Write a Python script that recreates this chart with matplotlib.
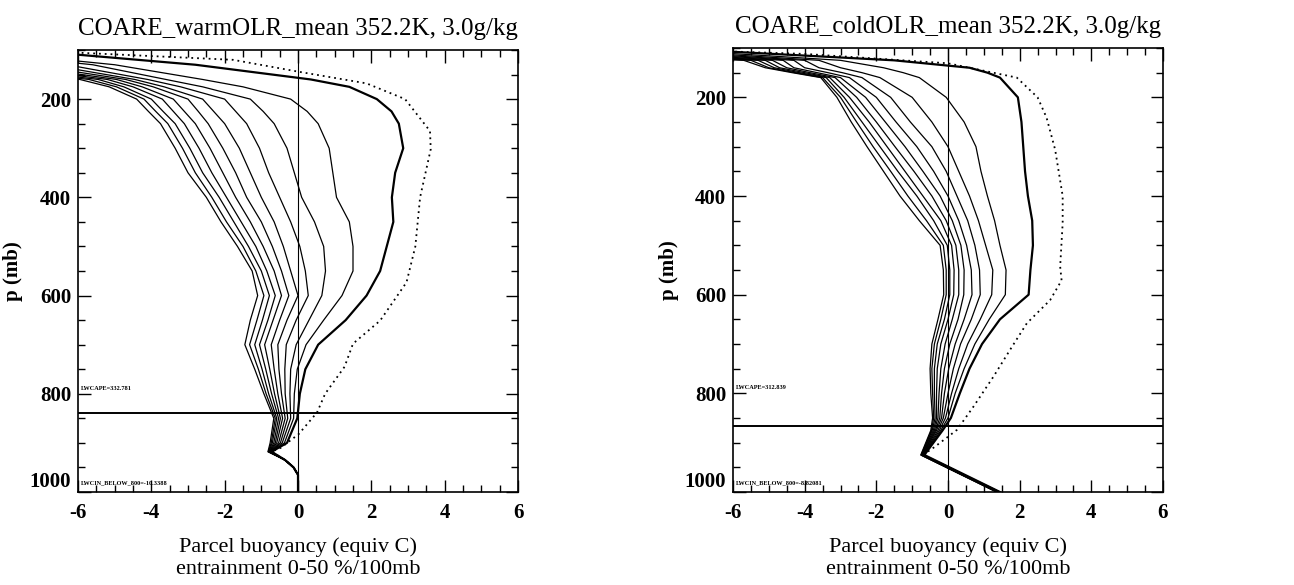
import numpy as np
import matplotlib.pyplot as plt
from matplotlib.ticker import MultipleLocator

plt.rcParams['axes.unicode_minus'] = False

# entrainment rates (%/100mb) for the solid curves
entrain = [0, 5, 10, 15, 20, 25, 30, 35, 40, 45, 50]

# ---- warm OLR panel ----
p_warm = [100, 130, 160, 175, 200, 225, 250, 300, 350, 400, 450, 500, 550, 600,
          650, 700, 750, 800, 850, 900, 918, 935, 950, 965, 1000]
b_warm = [
    [-7.5, -9, -9.5, -10, -10.5, -11, -11.5, -12, -12.5, -13, -13.5],
    [-2.8, -5.0, -5.6, -6.3, -6.8, -7.3, -7.8, -8.3, -8.8, -9.3, -9.8],
    [0.35, -2.6, -3.6, -4.1, -4.45, -4.7, -4.95, -5.2, -5.45, -5.7, -5.95],
    [1.4, -1.5, -2.6, -3.2, -3.65, -3.95, -4.25, -4.5, -4.75, -4.95, -5.15],
    [2.15, -0.2, -1.3, -2.0, -2.6, -3.0, -3.4, -3.7, -4.0, -4.2, -4.4],
    [2.55, 0.25, -0.95, -1.7, -2.3, -2.72, -3.1, -3.4, -3.68, -3.88, -4.08],
    [2.75, 0.55, -0.65, -1.4, -2.0, -2.45, -2.8, -3.1, -3.35, -3.55, -3.75],
    [2.87, 0.85, -0.3, -1.05, -1.6, -2.05, -2.4, -2.7, -2.95, -3.15, -3.35],
    [2.65, 0.95, -0.1, -0.8, -1.3, -1.7, -2.05, -2.35, -2.6, -2.8, -3.0],
    [2.56, 1.05, 0.1, -0.5, -1.0, -1.4, -1.7, -1.95, -2.15, -2.35, -2.5],
    [2.6, 1.4, 0.45, -0.2, -0.65, -1.0, -1.3, -1.55, -1.75, -1.95, -2.1],
    [2.42, 1.5, 0.7, 0.05, -0.4, -0.7, -0.95, -1.15, -1.35, -1.5, -1.65],
    [2.24, 1.5, 0.75, 0.2, -0.2, -0.45, -0.65, -0.85, -1.0, -1.15, -1.25],
    [1.87, 1.2, 0.65, 0.28, 0.0, -0.25, -0.45, -0.62, -0.78, -0.93, -1.1],
    [1.3, 0.7, 0.3, -0.05, -0.3, -0.5, -0.68, -0.82, -0.97, -1.12, -1.3],
    [0.55, 0.22, -0.05, -0.32, -0.55, -0.73, -0.91, -1.05, -1.18, -1.32, -1.45],
    [0.2, -0.02, -0.2, -0.36, -0.52, -0.65, -0.77, -0.88, -0.98, -1.08, -1.18],
    [0.05, -0.1, -0.22, -0.35, -0.45, -0.55, -0.64, -0.72, -0.8, -0.87, -0.93],
    [-0.02, -0.12, -0.2, -0.28, -0.35, -0.42, -0.48, -0.53, -0.58, -0.62, -0.66],
    [-0.3, -0.37, -0.43, -0.48, -0.53, -0.58, -0.62, -0.66, -0.7, -0.73, -0.76],
    [-0.72, -0.73, -0.74, -0.75, -0.76, -0.77, -0.78, -0.79, -0.8, -0.81, -0.82],
    [-0.35] * 11,
    [-0.12] * 11,
    [0.0] * 11,
    [0.0] * 11,
]
p_warm_dot = [100, 105.5, 120, 144, 168, 200, 265, 302, 400, 500, 573, 651,
              698, 745, 800, 838, 882, 910, 918, 935, 950, 965, 1000]
b_warm_dot = [-7, -6, -1.77, 0, 1.87, 2.92, 3.6, 3.62, 3.33, 3.2, 2.96, 2.24,
              1.5, 1.27, 0.74, 0.52, 0.02, -0.47, -0.72, -0.35, -0.12, 0, 0]
lcl_warm = 840

# ---- cold OLR panel ----
p_cold = [100, 125, 140, 150, 160, 200, 250, 300, 350, 400, 450, 500, 550, 600,
          650, 700, 750, 800, 850, 875, 925, 1000]
b_cold = [
    [-8, -8.5, -9, -9.5, -10, -10.5, -11, -11.5, -12, -12.5, -13],
    [-1.5, -3.0, -3.6, -4.0, -4.3, -4.6, -4.9, -5.1, -5.3, -5.5, -5.7],
    [0.6, -1.8, -3.0, -3.6, -4.0, -4.3, -4.5, -4.7, -4.85, -5.0, -5.1],
    [1.1, -1.25, -2.4, -2.95, -3.35, -3.65, -3.85, -4.0, -4.15, -4.27, -4.35],
    [1.45, -0.8, -1.9, -2.4, -2.75, -3.0, -3.15, -3.3, -3.4, -3.5, -3.55],
    [1.95, -0.05, -1.0, -1.6, -2.0, -2.3, -2.55, -2.75, -2.9, -3.0, -3.1],
    [2.05, 0.45, -0.45, -1.05, -1.45, -1.75, -2.0, -2.2, -2.4, -2.55, -2.7],
    [2.1, 0.78, 0.0, -0.45, -0.87, -1.2, -1.48, -1.7, -1.9, -2.09, -2.26],
    [2.15, 0.92, 0.3, -0.05, -0.4, -0.7, -0.95, -1.2, -1.4, -1.6, -1.8],
    [2.23, 1.1, 0.6, 0.25, 0.0, -0.22, -0.45, -0.7, -0.87, -1.12, -1.34],
    [2.35, 1.3, 0.85, 0.55, 0.3, 0.12, -0.05, -0.2, -0.4, -0.6, -0.8],
    [2.37, 1.45, 1.05, 0.75, 0.52, 0.36, 0.22, 0.1, -0.02, -0.13, -0.22],
    [2.3, 1.62, 1.25, 0.88, 0.65, 0.45, 0.3, 0.17, 0.05, -0.05, -0.13],
    [2.25, 1.6, 1.22, 0.9, 0.67, 0.44, 0.3, 0.16, 0.05, -0.05, -0.12],
    [1.45, 1.15, 0.9, 0.65, 0.45, 0.28, 0.12, 0.0, -0.1, -0.2, -0.28],
    [0.95, 0.75, 0.55, 0.35, 0.2, 0.05, -0.08, -0.2, -0.3, -0.38, -0.45],
    [0.6, 0.45, 0.3, 0.15, 0.02, -0.1, -0.2, -0.3, -0.38, -0.45, -0.5],
    [0.33, 0.2, 0.1, 0.0, -0.1, -0.18, -0.25, -0.32, -0.38, -0.43, -0.48],
    [0.08, 0.0, -0.07, -0.13, -0.18, -0.23, -0.28, -0.32, -0.36, -0.4, -0.43],
    [-0.15, -0.2, -0.24, -0.28, -0.32, -0.35, -0.38, -0.41, -0.44, -0.46, -0.48],
    [-0.66, -0.67, -0.68, -0.69, -0.7, -0.71, -0.72, -0.73, -0.74, -0.75, -0.76],
    [1.45, 1.44, 1.43, 1.42, 1.41, 1.4, 1.39, 1.38, 1.37, 1.36, 1.35],
]
p_cold_dot = [100, 112, 131, 160, 200, 241, 306, 400, 455, 543, 571, 611, 658,
              712, 766, 827, 874, 888, 910, 925, 1000]
b_cold_dot = [-9, -4, 0, 1.92, 2.5, 2.75, 2.99, 3.2, 3.2, 3.13, 3.17, 2.85, 2.2,
              1.73, 1.27, 0.71, 0.25, 0.0, -0.4, -0.7, 1.4]
lcl_cold = 867

panels = [
    dict(title='COARE_warmOLR_mean 352.2K, 3.0g/kg', p=p_warm, b=b_warm,
         pd=p_warm_dot, bd=b_warm_dot, lcl=lcl_warm,
         cape='LWCAPE=332.781', cin='LWCIN_BELOW_800=-10.3388',
         rect=[78 / 1294, 93 / 585, 440 / 1294, 442 / 585]),
    dict(title='COARE_coldOLR_mean 352.2K, 3.0g/kg', p=p_cold, b=b_cold,
         pd=p_cold_dot, bd=b_cold_dot, lcl=lcl_cold,
         cape='LWCAPE=312.839', cin='LWCIN_BELOW_800=-8.82081',
         rect=[733 / 1294, 93 / 585, 430 / 1294, 444 / 585]),
]

serif = 'Liberation Serif'

fig = plt.figure(figsize=(12.94, 5.85), dpi=100)

for pan in panels:
    ax = fig.add_axes(pan['rect'])
    b = np.array(pan['b'])
    for k in range(len(entrain)):
        lw = 1.6 if k == 0 else 0.9
        ax.plot(b[:, k], pan['p'], color='black', lw=lw)
    ax.plot(pan['bd'], pan['pd'], color='black', lw=1.3, linestyle=(0, (1, 2.2)))

    ax.axvline(0, color='black', lw=0.8)
    ax.axhline(pan['lcl'], color='black', lw=1.4)

    ax.set_xlim(-6, 6)
    ax.set_ylim(1000, 100)
    ax.set_xticks([-6, -4, -2, 0, 2, 4, 6])
    ax.set_yticks([200, 400, 600, 800, 1000])
    ax.xaxis.set_minor_locator(MultipleLocator(0.5))
    ax.yaxis.set_minor_locator(MultipleLocator(50))
    ax.tick_params(which='both', direction='in', top=True, right=True, width=1)
    ax.tick_params(which='major', length=9)
    ax.tick_params(which='minor', length=5)
    ax.tick_params(axis='x', pad=8)
    ax.tick_params(axis='y', pad=5)
    for lab in ax.get_xticklabels() + ax.get_yticklabels():
        lab.set_fontfamily(serif)
        lab.set_fontweight('bold')
        lab.set_fontsize(15)
    ax.get_yticklabels()[-1].set_va('bottom')
    for s in ax.spines.values():
        s.set_linewidth(1.2)

    ax.set_title(pan['title'], fontfamily=serif, fontsize=18, pad=11)
    ax.set_xlabel('Parcel buoyancy (equiv C)\nentrainment 0-50 %/100mb',
                  fontfamily=serif, fontsize=16, linespacing=1.2, labelpad=10)
    ax.set_ylabel('p (mb)', fontfamily=serif, fontweight='bold', fontsize=15)
    ax.yaxis.set_label_coords(-0.125, 0.5)

    ax.text(-5.92, 792, pan['cape'], fontsize=4.5, fontfamily=serif,
            fontweight='bold')
    ax.text(-5.92, 985, pan['cin'], fontsize=4.5, fontfamily=serif,
            fontweight='bold')

fig.savefig('out.png', dpi=100)
